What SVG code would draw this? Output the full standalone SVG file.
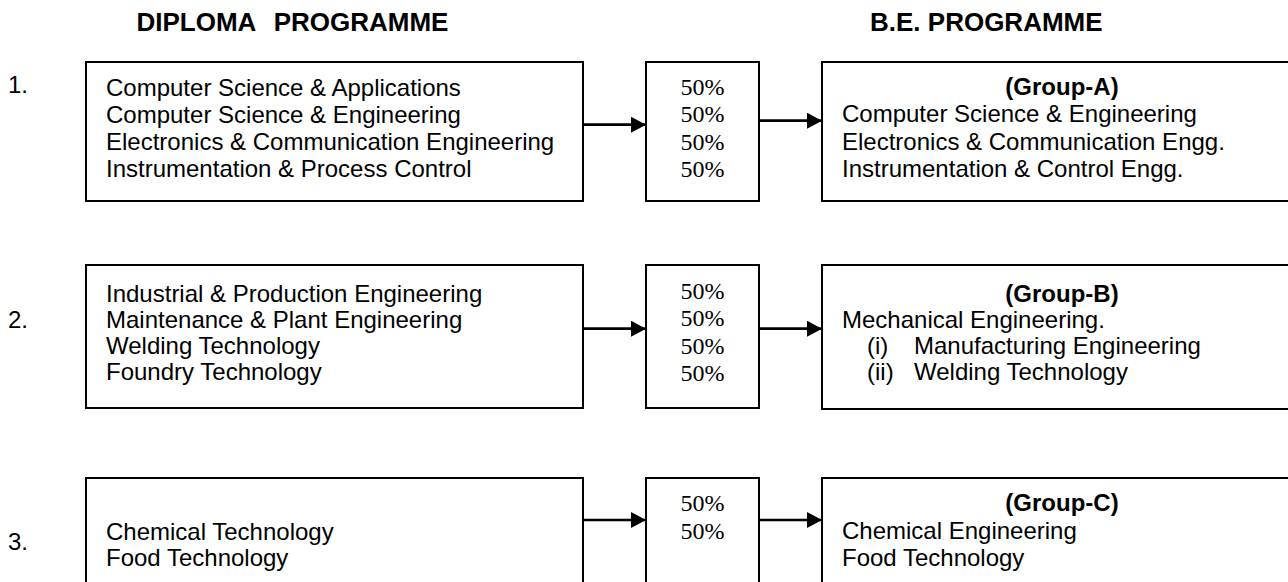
<svg xmlns="http://www.w3.org/2000/svg" width="1288" height="582" viewBox="0 0 1288 582">
<defs>
<style>
.box{fill:#fff;stroke:#000;stroke-width:2}
.t{font-family:"Liberation Sans",Arial,sans-serif;font-size:24px;fill:#000}
.b{font-family:"Liberation Sans",Arial,sans-serif;font-size:24px;font-weight:bold;fill:#000}
.h{font-family:"Liberation Sans",Arial,sans-serif;font-size:26px;font-weight:bold;fill:#000}
.p{font-family:"Liberation Serif","Times New Roman",serif;font-size:24px;fill:#000;text-anchor:middle}
.c{stroke:#000;stroke-width:2.7;fill:none;marker-end:url(#ah)}
</style>
<marker id="ah" markerUnits="userSpaceOnUse" markerWidth="15" markerHeight="16" refX="15" refY="8" orient="auto">
<path d="M0,0 L15,8 L0,16 z" fill="#000"/>
</marker>
</defs>
<rect width="1288" height="582" fill="#fff"/>
<g id="titles">
<text class="h" x="136.5" y="31" word-spacing="11">DIPLOMA PROGRAMME</text>
<text class="h" x="870" y="31" font-size="25.5">B.E. PROGRAMME</text>
</g>
<g id="row1-num"><text class="t" x="8" y="93">1.</text></g>
<g id="row2-num"><text class="t" x="8" y="328">2.</text></g>
<g id="row3-num"><text class="t" x="8" y="550">3.</text></g>
<g id="diploma-1">
<rect class="box" x="86" y="62" width="497" height="139"/>
<text class="t" x="106" y="96">Computer Science &amp; Applications</text>
<text class="t" x="106" y="123">Computer Science &amp; Engineering</text>
<text class="t" x="106" y="150">Electronics &amp; Communication Engineering</text>
<text class="t" x="106" y="177">Instrumentation &amp; Process Control</text>
</g>
<g id="pct-1">
<rect class="box" x="646" y="62" width="113" height="139"/>
<text class="p" x="702.5" y="95">50%</text>
<text class="p" x="702.5" y="122">50%</text>
<text class="p" x="702.5" y="149.5">50%</text>
<text class="p" x="702.5" y="177">50%</text>
</g>
<g id="be-1">
<rect class="box" x="822" y="62" width="490" height="139"/>
<text class="b" x="1062" y="95" text-anchor="middle">(Group-A)</text>
<text class="t" x="842" y="122">Computer Science &amp; Engineering</text>
<text class="t" x="842" y="149.5">Electronics &amp; Communication Engg.</text>
<text class="t" x="842" y="177">Instrumentation &amp; Control Engg.</text>
</g>
<g id="diploma-2">
<rect class="box" x="86" y="265" width="497" height="143"/>
<text class="t" x="106" y="301.5">Industrial &amp; Production Engineering</text>
<text class="t" x="106" y="327.5">Maintenance &amp; Plant Engineering</text>
<text class="t" x="106" y="353.5">Welding Technology</text>
<text class="t" x="106" y="379.5">Foundry Technology</text>
</g>
<g id="pct-2">
<rect class="box" x="646" y="265" width="113" height="143"/>
<text class="p" x="702.5" y="298.5">50%</text>
<text class="p" x="702.5" y="326">50%</text>
<text class="p" x="702.5" y="353.5">50%</text>
<text class="p" x="702.5" y="381">50%</text>
</g>
<g id="be-2">
<rect class="box" x="822" y="265" width="490" height="144"/>
<text class="b" x="1062" y="301.5" text-anchor="middle">(Group-B)</text>
<text class="t" x="842" y="327.5">Mechanical Engineering.</text>
<text class="t" x="867" y="353.5">(i)</text>
<text class="t" x="914" y="353.5">Manufacturing Engineering</text>
<text class="t" x="867" y="380">(ii)</text>
<text class="t" x="914" y="380">Welding Technology</text>
</g>
<g id="diploma-3">
<rect class="box" x="86" y="478" width="497" height="130"/>
<text class="t" x="106" y="539.5">Chemical Technology</text>
<text class="t" x="106" y="566">Food Technology</text>
</g>
<g id="pct-3">
<rect class="box" x="646" y="478" width="113" height="130"/>
<text class="p" x="702.5" y="511">50%</text>
<text class="p" x="702.5" y="538.5">50%</text>
</g>
<g id="be-3">
<rect class="box" x="822" y="478" width="490" height="130"/>
<text class="b" x="1062" y="511" text-anchor="middle">(Group-C)</text>
<text class="t" x="842" y="538.5">Chemical Engineering</text>
<text class="t" x="842" y="566">Food Technology</text>
</g>
<g id="connectors">
<line class="c" x1="584" y1="124.7" x2="646" y2="124.7"/>
<line class="c" x1="759" y1="120.7" x2="822" y2="120.7"/>
<line class="c" x1="584" y1="328.7" x2="646" y2="328.7"/>
<line class="c" x1="759" y1="328.7" x2="822" y2="328.7"/>
<line class="c" x1="584" y1="520" x2="646" y2="520"/>
<line class="c" x1="759" y1="520" x2="822" y2="520"/>
</g>
</svg>
